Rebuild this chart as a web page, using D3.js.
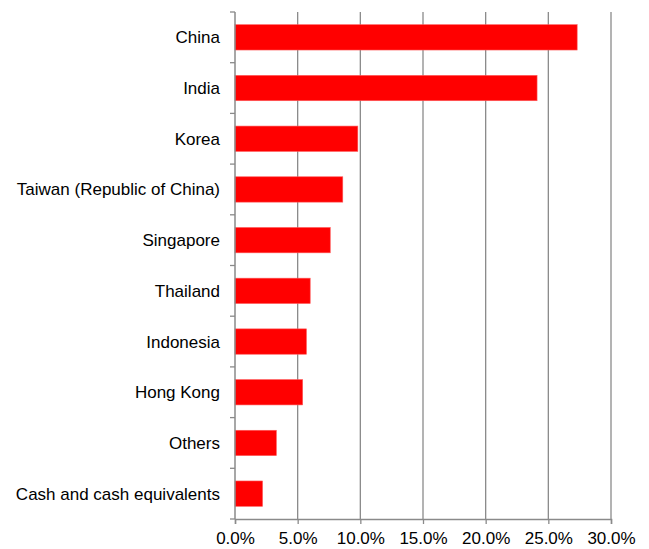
<!DOCTYPE html>
<html>
<head>
<meta charset="utf-8">
<script src="https://cdn.jsdelivr.net/npm/d3@7"></script>
<style>
  body { margin: 0; background: #fff; }
  text { font-family: "Liberation Sans", Arial, sans-serif; fill: #000; }
</style>
</head>
<body>
<div id="chart"></div>
<script>
const categories = ["China", "India", "Korea", "Taiwan (Republic of China)", "Singapore",
    "Thailand", "Indonesia", "Hong Kong", "Others", "Cash and cash equivalents"];
const weights = [27.3, 24.1, 9.8, 8.6, 7.6, 6.0, 5.7, 5.4, 3.3, 2.2];
const xTicks = [0, 5, 10, 15, 20, 25, 30];

const width = 649, height = 549;
const margin = {top: 12, right: 38, bottom: 30, left: 235};

const svg = d3.select('#chart').append('svg')
    .attr('width', width).attr('height', height);

const x = d3.scaleLinear().domain([0, 30])
    .range([margin.left, width - margin.right]);
const y = d3.scaleBand().domain(categories)
    .range([margin.top, height - margin.bottom])
    .paddingInner(0.5).paddingOuter(0.25);

// vertical gridlines
svg.append('g')
    .selectAll('line')
    .data(xTicks.slice(1))
    .enter().append('line')
    .attr('x1', (d) => x(d)).attr('x2', (d) => x(d))
    .attr('y1', margin.top).attr('y2', height - margin.bottom)
    .attr('stroke', '#8a8a8a').attr('stroke-width', 1.3);

// bars
svg.append('g')
    .selectAll('rect')
    .data(categories)
    .enter().append('rect')
    .attr('x', x(0))
    .attr('y', (d) => y(d))
    .attr('width', (d, i) => x(weights[i]) - x(0))
    .attr('height', y.bandwidth())
    .attr('fill', '#ff0000')
    .attr('stroke', '#ff5a5a').attr('stroke-width', 0.6);

// x axis
const xaxis = svg.append('g')
    .attr('transform', `translate(0,${height - margin.bottom})`)
    .call(d3.axisBottom(x).tickValues(xTicks).tickSize(5).tickPadding(8)
        .tickFormat((d) => d.toFixed(1) + '%'));
xaxis.select('.domain').attr('stroke', '#8a8a8a').attr('stroke-width', 1.5);
xaxis.selectAll('.tick line').attr('stroke', '#8a8a8a').attr('stroke-width', 1.3);
xaxis.selectAll('text').attr('font-size', 17).style('font-family', '"Liberation Sans", Arial, sans-serif');

// y axis with boundary ticks
const yEdges = categories.map((c) => y(c) - y.step() * y.paddingInner() / 2);
yEdges.push(height - margin.bottom);
const yaxis = svg.append('g');
yaxis.append('line')
    .attr('x1', x(0)).attr('x2', x(0))
    .attr('y1', margin.top).attr('y2', height - margin.bottom)
    .attr('stroke', '#8a8a8a').attr('stroke-width', 1.5);
yaxis.selectAll('.edge')
    .data(yEdges)
    .enter().append('line')
    .attr('class', 'edge')
    .attr('x1', x(0) - 5).attr('x2', x(0))
    .attr('y1', (d) => d).attr('y2', (d) => d)
    .attr('stroke', '#8a8a8a').attr('stroke-width', 1.3);
yaxis.selectAll('.lbl')
    .data(categories)
    .enter().append('text')
    .attr('class', 'lbl')
    .attr('x', x(0) - 15)
    .attr('y', (d) => y(d) + y.bandwidth() / 2)
    .attr('dy', '0.35em')
    .attr('text-anchor', 'end')
    .attr('font-size', 17)
    .text((d) => d);
</script>
</body>
</html>
